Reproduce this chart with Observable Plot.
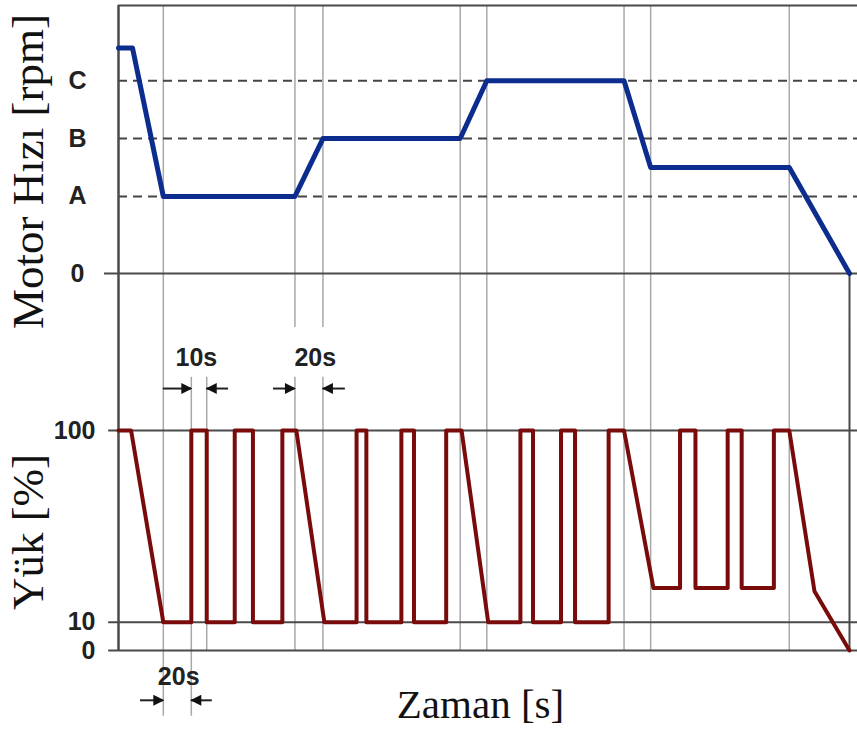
<!DOCTYPE html>
<html><head><meta charset="utf-8">
<script src="https://cdn.jsdelivr.net/npm/d3@7"></script>
<script src="https://cdn.jsdelivr.net/npm/@observablehq/plot@0.6"></script>
<style>
body{margin:0;background:#fff;}
#chart{position:relative;width:857px;height:733px;overflow:hidden;}
#chart svg{position:absolute;left:0;display:block;overflow:visible;}
</style></head><body><div id="chart"></div>
<script>
// ---- data (time in s) ----
const speedTime  = [0, 10, 32, 126, 146, 244, 263, 361, 380, 479, 522];
const speedValue = [117, 117, 40, 40, 70, 70, 100, 100, 55, 55, 0];

const loadTime  = [0, 9, 32, 52, 52, 63, 63, 83, 83, 96, 96, 117, 117, 127, 147,
                   170, 170, 177, 177, 202, 202, 211, 211, 234, 234, 245, 264,
                   287, 287, 296, 296, 316, 316, 326, 326, 350, 350, 361, 382,
                   401, 401, 412, 412, 435, 435, 445, 445, 468, 468, 479, 497, 522];
const loadValue = [100, 100, 10, 10, 100, 100, 10, 10, 100, 100, 10, 10, 100, 100, 10,
                   10, 100, 100, 10, 10, 100, 100, 10, 10, 100, 100, 10,
                   10, 100, 100, 10, 10, 100, 100, 10, 10, 100, 100, 26,
                   26, 100, 100, 26, 26, 100, 100, 26, 26, 100, 100, 24.5, 0];

const speedTickValues = [0, 40, 70, 100];
const speedTickLabels = ["0", "A", "B", "C"];
const loadTickValues  = [0, 10, 100];

const gridTimes = [32, 126, 146, 244, 263, 361, 380, 479];
const endTime = 522;

// span annotations
const spanStarts = [52, 126, 32];
const spanEnds   = [63, 146, 52];
const spanLabels = ["10s", "20s", "20s"];

const speedLabel = "Motor Hızı [rpm]";
const loadLabel  = "Yük [%]";
const timeLabel  = "Zaman [s]";

// ---- styles ----
const W = 857;
const blue = "#0c2d8e", red = "#7a0b0b";
const gridC = "#a8a8a8", axisC = "#4a4a4a";
const tickFont = {fontSize: 25, fontWeight: "bold", fontFamily: "Liberation Sans, Arial, sans-serif", fill: "#222"};
const serif = "Liberation Serif, Times New Roman, serif";
const xRight = 529;

// filled arrowhead symbols (tip at the point)
const triRight = {draw(ctx) { ctx.moveTo(1, 0); ctx.lineTo(-10, -5.5); ctx.lineTo(-10, 5.5); ctx.closePath(); }};
const triLeft  = {draw(ctx) { ctx.moveTo(-1, 0); ctx.lineTo(10, -5.5); ctx.lineTo(10, 5.5); ctx.closePath(); }};

const speed = speedTime.map((t, i) => ({t, v: speedValue[i]}));
const load = loadTime.map((t, i) => ({t, v: loadValue[i]}));

// ---- top panel ----
const topPlot = Plot.plot({
  width: W, height: 330,
  marginLeft: 118, marginRight: 8, marginTop: 5, marginBottom: 57,
  x: {domain: [0, endTime], axis: null},
  y: {domain: [0, 139], axis: null},
  style: {background: "transparent", overflow: "visible"},
  marks: [
    Plot.ruleX(gridTimes, {x: d => d, y1: 139, y2: d => (d === 126 || d === 146) ? -28 : -29.6, stroke: gridC, strokeWidth: 1.5}),
    Plot.ruleX([endTime], {x: d => d, y1: 0, y2: -29.6, stroke: axisC, strokeWidth: 2}),
    Plot.ruleY([40, 70, 100], {y: d => d, x1: 0, x2: xRight, stroke: "#454545", strokeWidth: 2, strokeDasharray: "9,6"}),
    Plot.ruleY([139], {y: d => d, x1: 0, x2: xRight, stroke: axisC, strokeWidth: 2}),
    Plot.ruleY([0], {y: d => d, x1: -10, x2: xRight, stroke: axisC, strokeWidth: 2}),
    Plot.ruleX([0], {x: d => d, y1: 139, y2: -29.6, stroke: axisC, strokeWidth: 2.5}),
    Plot.line(speed, {x: "t", y: "v", stroke: blue, strokeWidth: 5, strokeLinejoin: "round"}),
    Plot.axisY(speedTickValues, {tickSize: 0, tickPadding: 41, textAnchor: "middle",
      tickFormat: d => speedTickLabels[speedTickValues.indexOf(d)], ...tickFont, label: null}),
    Plot.text([speedLabel], {text: d => d, frameAnchor: "left", textAnchor: "middle", lineAnchor: "middle",
      dx: -89.5, dy: 32, rotate: -90, fontSize: 45, fontFamily: serif, fill: "#111"})
  ]
});
topPlot.style.top = "0px";

// ---- bottom panel ----
const yLab = 134, yArr = 119.7, yLab2 = -9.3, yArr2 = -17.6;
const shafts = [
  {x1: 32, x2: 52, y: yArr}, {x1: 63, x2: 78.6, y: yArr},
  {x1: 110.7, x2: 126, y: yArr}, {x1: 146, x2: 162, y: yArr},
  {x1: 15.7, x2: 32, y: yArr2}, {x1: 52, x2: 67, y: yArr2}
];
const headsRight = [
  {x: spanStarts[0], y: yArr}, {x: spanStarts[1], y: yArr}, {x: spanStarts[2], y: yArr2}
];
const headsLeft = [
  {x: spanEnds[0], y: yArr}, {x: spanEnds[1], y: yArr}, {x: spanEnds[2], y: yArr2}
];
const spanText = [
  {x: 55.6, y: yLab, s: spanLabels[0]},
  {x: 140.5, y: yLab, s: spanLabels[1]},
  {x: 43, y: yLab2, s: spanLabels[2]}
];

const bottomPlot = Plot.plot({
  width: W, height: 403,
  marginLeft: 118, marginRight: 8, marginTop: 0, marginBottom: 0,
  x: {domain: [0, endTime], axis: null},
  y: {type: "linear", domain: [0, 10, 100], range: [320, 291.7, 100], axis: null},
  style: {background: "transparent", overflow: "visible"},
  marks: [
    Plot.ruleX([244, 263, 361, 380, 479], {x: d => d, y1: 147, y2: 0, stroke: gridC, strokeWidth: 1.5}),
    Plot.ruleX([32], {x: d => d, y1: 147, y2: -23.2, stroke: gridC, strokeWidth: 1.5}),
    Plot.ruleX([126, 146, 63], {x: d => d, y1: 125, y2: 0, stroke: gridC, strokeWidth: 1.5}),
    Plot.ruleX([52], {x: d => d, y1: 125, y2: -23.2, stroke: gridC, strokeWidth: 1.5}),
    Plot.ruleX([endTime], {x: d => d, y1: 147, y2: 0, stroke: axisC, strokeWidth: 2}),
    Plot.ruleY(loadTickValues, {y: d => d, x1: -7, x2: xRight, stroke: axisC, strokeWidth: 2}),
    Plot.ruleX([0], {x: d => d, y1: 147, y2: 0, stroke: axisC, strokeWidth: 2.5}),
    Plot.line(load, {x: "t", y: "v", stroke: red, strokeWidth: 4, strokeLinejoin: "round"}),
    Plot.ruleY(shafts, {y: "y", x1: "x1", x2: "x2", stroke: "#222", strokeWidth: 2}),
    Plot.dot(headsRight, {x: "x", y: "y", symbol: triRight, fill: "#111", stroke: "none"}),
    Plot.dot(headsLeft, {x: "x", y: "y", symbol: triLeft, fill: "#111", stroke: "none"}),
    Plot.text(spanText, {x: "x", y: "y", text: "s", ...tickFont, fontSize: 25}),
    Plot.axisY(loadTickValues, {tickSize: 0, tickPadding: 23, textAnchor: "end", ...tickFont, label: null}),
    Plot.text([loadLabel], {text: d => d, frameAnchor: "left", textAnchor: "middle", lineAnchor: "middle",
      dx: -89.5, dy: 0, rotate: -90, fontSize: 45, fontFamily: serif, fill: "#111"}),
    Plot.text([timeLabel], {text: d => d, frameAnchor: "bottom", textAnchor: "middle", lineAnchor: "middle",
      dx: -3.5, dy: -29, fontSize: 41, fontFamily: serif, fill: "#111"})
  ]
});
bottomPlot.style.top = "330px";

document.getElementById("chart").append(topPlot, bottomPlot);
</script>
</body></html>
